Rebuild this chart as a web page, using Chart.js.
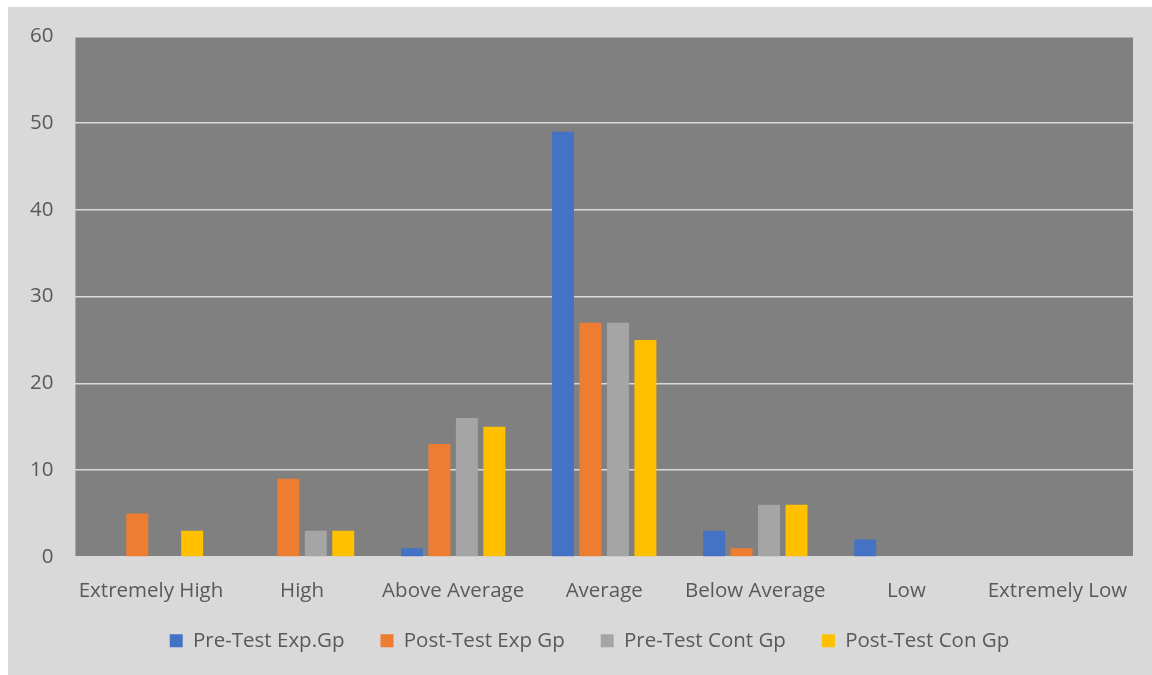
<!DOCTYPE html>
<html>
<head>
<meta charset="utf-8">
<script src="https://cdn.jsdelivr.net/npm/chart.js"></script>
<style>
    body { margin: 0; background: #ffffff; }
    #box {
        position: absolute;
        left: 8px;
        top: 7px;
        width: 1144px;
        height: 668px;
        background: #d9d9d9;
    }
</style>
</head>
<body>
<div id="box"><canvas id="levelChart"></canvas></div>
<script>
// Kategorier
const categories = [
    "Extremely High", "High", "Above Average", "Average",
    "Below Average", "Low", "Extremely Low"
];

// Serier
const preTestExp = [0, 0, 1, 49, 3, 2, 0];
const postTestExp = [5, 9, 13, 27, 1, 0, 0];
const preTestCont = [0, 3, 16, 27, 6, 0, 0];
const postTestCon = [3, 3, 15, 25, 6, 0, 0];

const seriesNames = [
    "Pre-Test Exp.Gp", "Post-Test Exp Gp",
    "Pre-Test Cont Gp", "Post-Test Con Gp"
];
const seriesColors = ["#4472c4", "#ed7d31", "#a5a5a5", "#ffc000"];

// Grå bakgrund i plotytan
const plotBackground = {
    id: "plotBackground",
    beforeDraw(chart) {
        const { ctx, chartArea } = chart;
        ctx.save();
        ctx.fillStyle = "#808080";
        ctx.fillRect(
            chartArea.left, chartArea.top,
            chartArea.right - chartArea.left,
            chartArea.bottom - chartArea.top
        );
        ctx.restore();
    }
};

// Flytta legenden lite (som i Excel)
const legendShift = {
    id: "legendShift",
    afterLayout(chart) {
        chart.legend.left += 19;
        chart.legend.right += 19;
        chart.legend.top -= 12;
    }
};

const seriesData = [preTestExp, postTestExp, preTestCont, postTestCon];

new Chart(document.getElementById("levelChart"), {
    type: "bar",
    data: {
        labels: categories,
        datasets: seriesData.map((values, i) => ({
            label: seriesNames[i],
            data: values,
            backgroundColor: seriesColors[i],
            borderWidth: 0,
            categoryPercentage: 0.727,
            barPercentage: 0.8
        }))
    },
    options: {
        responsive: true,
        maintainAspectRatio: false,
        animation: false,
        layout: {
            padding: { left: 0, right: 19, top: 0, bottom: 2 }
        },
        plugins: {
            tooltip: { enabled: false },
            legend: {
                position: "bottom",
                labels: {
                    color: "#595959",
                    font: { family: "Open Sans", size: 20.5 },
                    boxWidth: 13,
                    boxHeight: 13,
                    padding: 36
                }
            }
        },
        scales: {
            x: {
                grid: { display: false },
                border: { display: false },
                ticks: {
                    color: "#595959",
                    font: { family: "Open Sans", size: 20.5 },
                    padding: 14,
                    maxRotation: 0
                },
                afterFit(axis) {
                    axis.height -= 11;
                }
            },
            y: {
                min: 0,
                max: 60,
                grid: {
                    color: "#d9d9d9",
                    lineWidth: 1.5,
                    drawTicks: false
                },
                border: { display: false },
                ticks: {
                    stepSize: 10,
                    color: "#595959",
                    font: { family: "Open Sans", size: 20.5 },
                    padding: 22
                },
                afterFit(axis) {
                    axis.paddingTop -= 5;
                }
            }
        }
    },
    plugins: [plotBackground, legendShift]
});
</script>
</body>
</html>
